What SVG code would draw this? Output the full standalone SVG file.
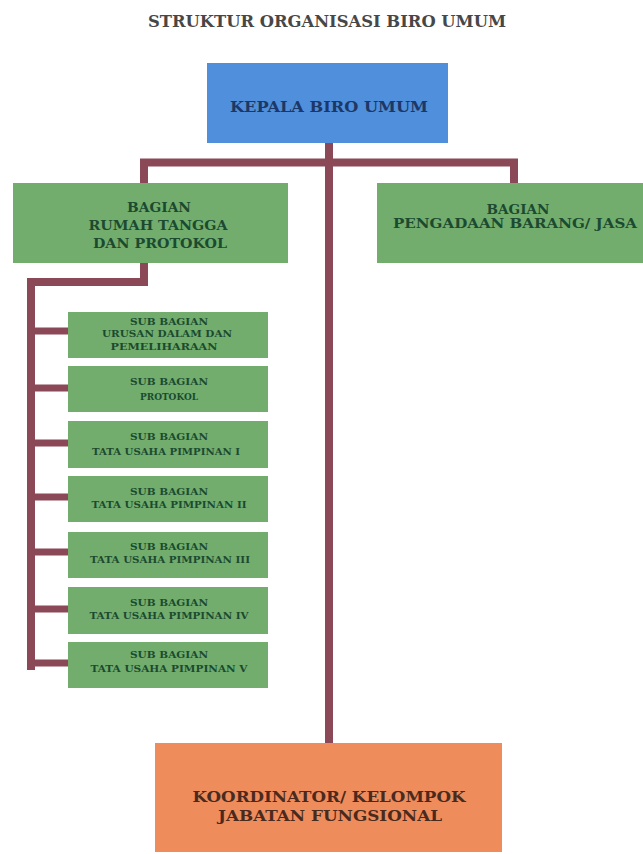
<svg xmlns="http://www.w3.org/2000/svg" width="643" height="854" viewBox="0 0 643 854">
<style>
text{font-family:"DejaVu Serif","Liberation Serif",serif;text-anchor:middle}
.title{font-size:17px;fill:#474747;font-weight:bold}
.blue{fill:#4f8fdc}
.green{fill:#72ad6d}
.orange{fill:#ee8c5c}
.tb{font-size:15px;fill:#1d3766;font-weight:bold}
.tg{font-size:13px;fill:#1b4a30;font-weight:bold}
.ts{font-size:9.5px;fill:#1b4a30;font-weight:bold}
.to{font-size:15px;fill:#4a2a1c;font-weight:bold}
.conn{stroke:#8b4857;fill:none;stroke-linecap:square}
</style>
<rect width="643" height="854" fill="#ffffff"/>
<text class="title" x="327" y="27" textLength="358" lengthAdjust="spacingAndGlyphs">STRUKTUR ORGANISASI BIRO UMUM</text>
<g id="connectors">
<path class="conn" stroke-width="8" d="M329 143 V743 M144 162.5 H514 M144 162.5 V183 M514 162.5 V183"/>
<path class="conn" stroke-width="8" d="M144 263 V282 H31 V666"/>
<path class="conn" stroke-width="7" d="M31 331 H68 M31 388 H68 M31 443 H68 M31 497 H68 M31 552 H68 M31 609 H68 M31 663 H68"/>
</g>
<g id="kepala">
<rect class="blue" x="207" y="63" width="241" height="80"/>
<text class="tb" x="329" y="112" textLength="198" lengthAdjust="spacingAndGlyphs">KEPALA BIRO UMUM</text>
</g>
<g id="bagian-rt">
<rect class="green" x="13" y="183" width="275" height="80"/>
<text class="tg" x="159" y="212" textLength="64" lengthAdjust="spacingAndGlyphs">BAGIAN</text>
<text class="tg" x="158" y="230" textLength="139" lengthAdjust="spacingAndGlyphs">RUMAH TANGGA</text>
<text class="tg" x="160" y="248" textLength="134" lengthAdjust="spacingAndGlyphs">DAN PROTOKOL</text>
</g>
<g id="bagian-pbj">
<rect class="green" x="377" y="183" width="266" height="80"/>
<text class="tg" x="518" y="214" textLength="63" lengthAdjust="spacingAndGlyphs">BAGIAN</text>
<text class="tg" x="515" y="228" textLength="244" lengthAdjust="spacingAndGlyphs">PENGADAAN BARANG/ JASA</text>
</g>
<g id="sub-urusan">
<rect class="green" x="68" y="312" width="200" height="46"/>
<text class="ts" x="169" y="325" textLength="78" lengthAdjust="spacingAndGlyphs">SUB BAGIAN</text>
<text class="ts" x="167" y="337" textLength="130" lengthAdjust="spacingAndGlyphs">URUSAN DALAM DAN</text>
<text class="ts" x="164" y="350" textLength="107" lengthAdjust="spacingAndGlyphs">PEMELIHARAAN</text>
</g>
<g id="sub-protokol">
<rect class="green" x="68" y="366" width="200" height="46"/>
<text class="ts" x="169" y="385" textLength="78" lengthAdjust="spacingAndGlyphs">SUB BAGIAN</text>
<text class="ts" x="169" y="400" textLength="58" lengthAdjust="spacingAndGlyphs">PROTOKOL</text>
</g>
<g id="sub-tup1">
<rect class="green" x="68" y="421" width="200" height="47"/>
<text class="ts" x="169" y="440" textLength="78" lengthAdjust="spacingAndGlyphs">SUB BAGIAN</text>
<text class="ts" x="166" y="455" textLength="148" lengthAdjust="spacingAndGlyphs">TATA USAHA PIMPINAN I</text>
</g>
<g id="sub-tup2">
<rect class="green" x="68" y="476" width="200" height="46"/>
<text class="ts" x="169" y="495" textLength="78" lengthAdjust="spacingAndGlyphs">SUB BAGIAN</text>
<text class="ts" x="169" y="508" textLength="155" lengthAdjust="spacingAndGlyphs">TATA USAHA PIMPINAN II</text>
</g>
<g id="sub-tup3">
<rect class="green" x="68" y="532" width="200" height="46"/>
<text class="ts" x="169" y="550" textLength="78" lengthAdjust="spacingAndGlyphs">SUB BAGIAN</text>
<text class="ts" x="170" y="563" textLength="160" lengthAdjust="spacingAndGlyphs">TATA USAHA PIMPINAN III</text>
</g>
<g id="sub-tup4">
<rect class="green" x="68" y="587" width="200" height="47"/>
<text class="ts" x="169" y="606" textLength="78" lengthAdjust="spacingAndGlyphs">SUB BAGIAN</text>
<text class="ts" x="169" y="619" textLength="159" lengthAdjust="spacingAndGlyphs">TATA USAHA PIMPINAN IV</text>
</g>
<g id="sub-tup5">
<rect class="green" x="68" y="642" width="200" height="46"/>
<text class="ts" x="169" y="658" textLength="78" lengthAdjust="spacingAndGlyphs">SUB BAGIAN</text>
<text class="ts" x="169" y="672" textLength="157" lengthAdjust="spacingAndGlyphs">TATA USAHA PIMPINAN V</text>
</g>
<g id="koordinator">
<rect class="orange" x="155" y="743" width="347" height="109"/>
<text class="to" x="329" y="802" textLength="273" lengthAdjust="spacingAndGlyphs">KOORDINATOR/ KELOMPOK</text>
<text class="to" x="330" y="821" textLength="224" lengthAdjust="spacingAndGlyphs">JABATAN FUNGSIONAL</text>
</g>
</svg>
